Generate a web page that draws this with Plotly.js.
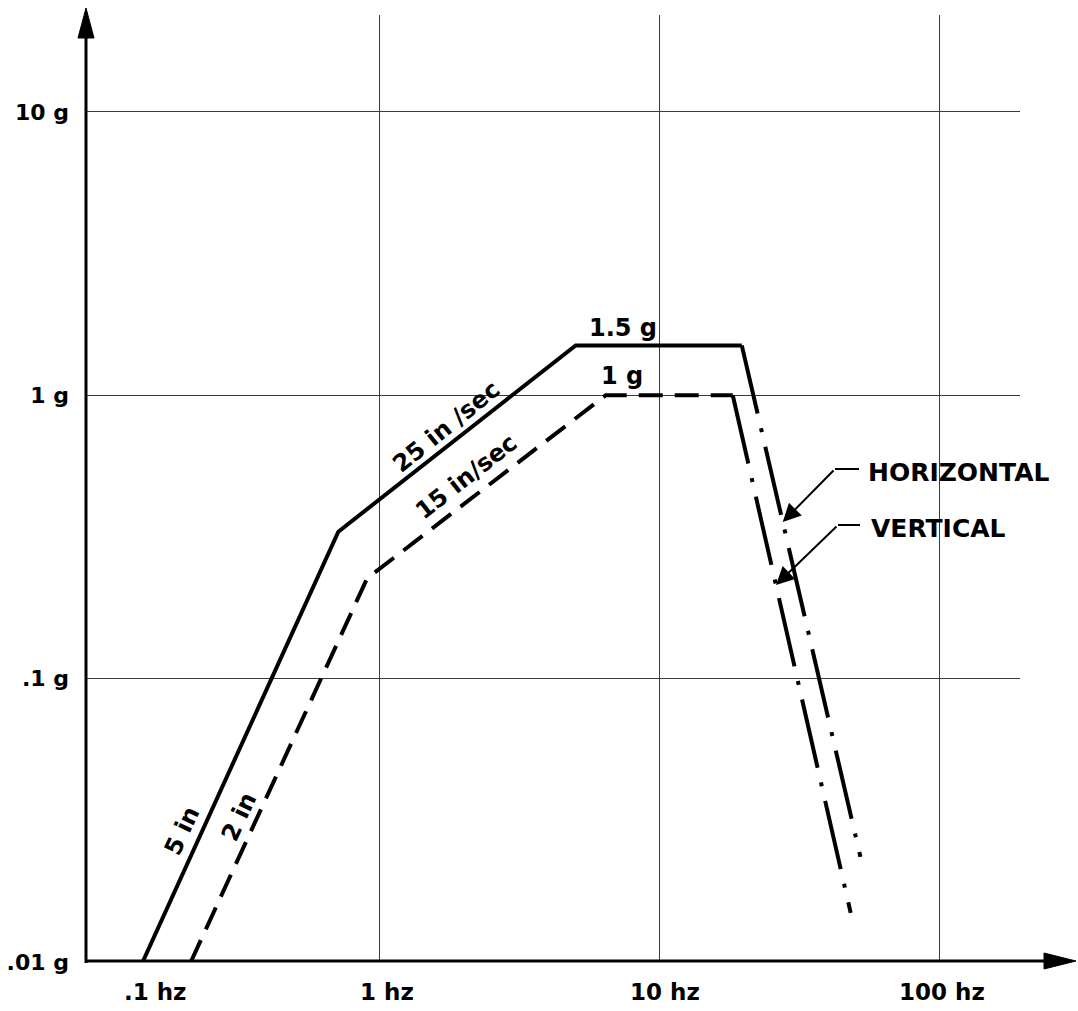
<!DOCTYPE html>
<html>
<head>
<meta charset="utf-8">
<script src="https://cdn.plot.ly/plotly-3.0.1.min.js"></script>
<style>
  html, body { margin: 0; padding: 0; background: #ffffff; }
  #chart { width: 1078px; height: 1011px; }
</style>
</head>
<body>
<div id="chart"></div>
<script>
// ---- data (frequency in Hz, acceleration in g) ----
const horizontalFreq = [0.142, 0.71, 5.0, 19.6, 52];
const horizontalAccel = [0.01, 0.33, 1.5, 1.5, 0.0235];
const verticalFreq = [0.211, 0.90, 6.4, 18.2, 48];
const verticalAccel = [0.01, 0.226, 1.0, 1.0, 0.0149];

const xTickValues = [1, 10, 100];
const xTickLabels = ['.1 hz', '1 hz', '10 hz', '100 hz'];
const yTickValues = [10, 1, 0.1, 0.01];
const yTickLabels = ['10 g', '1 g', '.1 g', '.01 g'];

const seriesLabels = ['HORIZONTAL', 'VERTICAL'];
const segmentLabels = ['5 in', '25 in /sec', '1.5 g', '2 in', '15 in/sec', '1 g'];

// ---- geometry helpers (pixel -> paper) ----
const W = 1078, H = 1011;
const M = {l: 86, r: 58, t: 15, b: 49};
const PW = W - M.l - M.r, PH = H - M.t - M.b;
const px = x => (x - M.l) / PW;
const py = y => (H - M.b - y) / PH;
const xRange = [-1.05, 2.286];
const yRange = [-2.0, 1.342];
// pixel -> log data coords (for arrow tails)
const lx = x => xRange[0] + (x - M.l) / PW * (xRange[1] - xRange[0]);
const ly = y => yRange[0] + (H - M.b - y) / PH * (yRange[1] - yRange[0]);

const FONT = 'DejaVu Sans, Liberation Sans, Arial, sans-serif';
const black = '#000000';
const lw = 4;
const dashDot = '70px,15px,4px,15px';

const traces = [
  {x: horizontalFreq.slice(0, 4), y: horizontalAccel.slice(0, 4), mode: 'lines',
   line: {color: black, width: lw}, hoverinfo: 'skip'},
  {x: horizontalFreq.slice(3), y: horizontalAccel.slice(3), mode: 'lines',
   line: {color: black, width: lw, dash: dashDot}, hoverinfo: 'skip'},
  {x: verticalFreq.slice(0, 4), y: verticalAccel.slice(0, 4), mode: 'lines',
   line: {color: black, width: lw, dash: '24px,12px'}, hoverinfo: 'skip'},
  {x: verticalFreq.slice(3), y: verticalAccel.slice(3), mode: 'lines',
   line: {color: black, width: lw, dash: dashDot}, hoverinfo: 'skip'}
];

// point on a falling segment at a given g level (log interpolation)
function onFall(freq, accel, g) {
  const lf0 = Math.log10(freq[3]), lf1 = Math.log10(freq[4]);
  const lg0 = Math.log10(accel[3]), lg1 = Math.log10(accel[4]);
  const t = (Math.log10(g) - lg0) / (lg1 - lg0);
  return {x: lf0 + t * (lf1 - lf0), y: Math.log10(g)};
}
const hTip = onFall(horizontalFreq, horizontalAccel, Math.pow(10, ly(522)));
const vTip = onFall(verticalFreq, verticalAccel, Math.pow(10, ly(585)));

function txt(text, x, y, opts, size) {
  return Object.assign({
    text: text, xref: 'paper', yref: 'paper', x: px(x), y: py(y),
    xanchor: 'center', yanchor: 'middle', showarrow: false,
    font: {family: FONT, size: size || 23, color: black, weight: 'bold'}
  }, opts || {});
}

const xLabelPos = [155, 387, 665, 942];
const annotations = [];
xTickLabels.forEach((t, i) => annotations.push(txt(t, xLabelPos[i], 992)));

annotations.push(txt(segmentLabels[0], 182, 831, {textangle: -65}, 24));
annotations.push(txt(segmentLabels[1], 446, 427, {textangle: -39}, 24));
annotations.push(txt(segmentLabels[2], 623, 328, null, 24));
annotations.push(txt(segmentLabels[3], 239, 817, {textangle: -65}, 24));
annotations.push(txt(segmentLabels[4], 466, 477, {textangle: -38}, 24));
annotations.push(txt(segmentLabels[5], 622, 376, null, 24));

annotations.push(txt(seriesLabels[0], 866, 472, {xanchor: 'left'}, 25));
annotations.push(txt(seriesLabels[1], 869, 528, {xanchor: 'left'}, 25));

// leader arrows
annotations.push({
  xref: 'x', yref: 'y', x: hTip.x, y: hTip.y, axref: 'x', ayref: 'y',
  ax: lx(835), ay: ly(469), text: '', showarrow: true,
  arrowhead: 2, arrowsize: 1.8, arrowwidth: 2, arrowcolor: black, standoff: 0
});
annotations.push({
  xref: 'x', yref: 'y', x: vTip.x, y: vTip.y, axref: 'x', ayref: 'y',
  ax: lx(838), ay: ly(525), text: '', showarrow: true,
  arrowhead: 2, arrowsize: 1.8, arrowwidth: 2, arrowcolor: black, standoff: 0
});

const shapes = [
  // y axis with arrow
  {type: 'line', xref: 'paper', yref: 'paper', x0: px(86), x1: px(86), y0: py(963), y1: py(34),
   line: {color: black, width: 3}},
  {type: 'path', xref: 'paper', yref: 'paper',
   path: `M ${px(86)} ${py(8)} L ${px(78)} ${py(38)} L ${px(94)} ${py(38)} Z`,
   fillcolor: black, line: {color: black, width: 1}},
  // x axis with arrow
  {type: 'line', xref: 'paper', yref: 'paper', x0: px(85), x1: px(1048), y0: py(961), y1: py(961),
   line: {color: black, width: 3}},
  {type: 'path', xref: 'paper', yref: 'paper',
   path: `M ${px(1076)} ${py(961)} L ${px(1044)} ${py(953)} L ${px(1044)} ${py(969)} Z`,
   fillcolor: black, line: {color: black, width: 1}},
  // leader short horizontals
  {type: 'line', xref: 'paper', yref: 'paper', x0: px(835), x1: px(859), y0: py(469), y1: py(469),
   line: {color: black, width: 2}},
  {type: 'line', xref: 'paper', yref: 'paper', x0: px(838), x1: px(860), y0: py(525), y1: py(525),
   line: {color: black, width: 2}}
];

const layout = {
  width: W, height: H,
  margin: {l: M.l, r: M.r, t: M.t, b: M.b, pad: 0},
  paper_bgcolor: '#ffffff', plot_bgcolor: '#ffffff',
  showlegend: false,
  font: {family: FONT, color: black},
  xaxis: {
    type: 'log', range: xRange, tickvals: xTickValues, showticklabels: false,
    showgrid: true, gridcolor: '#3a3a3a', gridwidth: 1, zeroline: false,
    showline: false, ticks: '', fixedrange: true
  },
  yaxis: {
    type: 'log', range: yRange, tickvals: yTickValues, ticktext: yTickLabels,
    showgrid: true, gridcolor: '#3a3a3a', gridwidth: 1, zeroline: false,
    showline: false, ticks: '', ticklabelstandoff: 16,
    tickfont: {family: FONT, size: 22, color: black, weight: 'bold'}, fixedrange: true
  },
  annotations: annotations,
  shapes: shapes
};

Plotly.newPlot('chart', traces, layout, {staticPlot: true, displayModeBar: false});
</script>
</body>
</html>
